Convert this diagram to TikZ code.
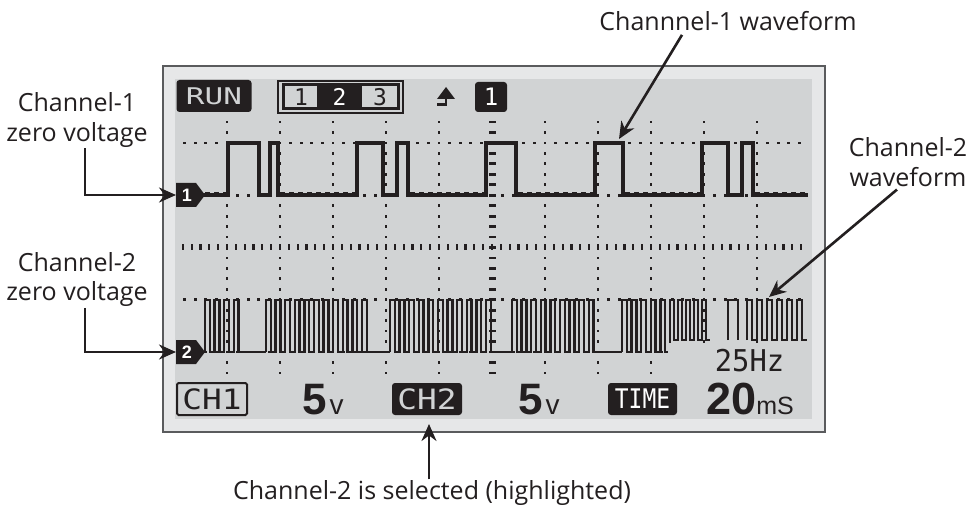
\documentclass[tikz,border=0pt]{standalone}
\usepackage{fontspec}
\setmainfont{Open Sans}
\newfontfamily\lcdfont{DejaVu Sans Mono}
\newfontfamily\numfont{Liberation Sans}
\usetikzlibrary{arrows.meta}
\definecolor{ink}{HTML}{231F20}
\definecolor{bezel}{HTML}{E6E7E8}
\definecolor{screen}{HTML}{D1D3D4}
\definecolor{rim}{HTML}{5A5B5D}
\newcommand\pulsetrain[5]{%
  \draw[chtwo] (#1,#4) foreach \i in {1,...,#2} {-- ++(0,#5-#4) -- ++(#3/2,0) -- ++(0,#4-#5) -- ++(#3/2,0)};}
\newcommand\lcdtext[3]{{\lcdfont\fontsize{#1}{#1}\selectfont\scalebox{#2}[1]{#3}}}
\begin{document}
\begin{tikzpicture}[x=1pt,y=-1pt,
  lbl/.style={font=\fontsize{25}{29.5}\selectfont, text=ink, align=center, inner sep=1pt},
  callout/.style={draw=ink, line width=2.6pt, -{Stealth[length=17pt,width=15pt]}},
  blackbox/.style={fill=ink, rounded corners=3pt, inner sep=0pt},
  chone/.style={draw=ink, line width=3.4pt, line join=miter},
  chtwo/.style={draw=ink, line width=2.5pt, line join=miter},
  dot/.style={fill=ink},
  bignum/.style={anchor=base west, inner sep=0pt, text=ink}
]
\useasboundingbox (0,0) rectangle (978,505);
\fill[white] (0,0) rectangle (978,505);
% bezel and screen
\draw[rim, fill=bezel, line width=1.8pt] (163,66) rectangle (825,432);
\fill[screen] (175,79) rectangle (812,419);
% graticule: vertical dotted lines
\foreach \k in {0,1,2,3,4,6,7,8,9,10}
  \foreach \j in {-2,...,22}
    \fill[dot] ({227+53*\k-1.4},{143+10.45*\j-1.4}) rectangle ++(2.8,2.8);
% horizontal dotted lines
\foreach \r in {0,1,3,4}
  \foreach \i in {-4,...,54}
    \fill[dot] ({227+10.6*\i-1.4},{143+52.25*\r-1.4}) rectangle ++(2.8,2.8);
% centre column
\foreach \j in {-2,...,22}
  \fill[dot] (488.5,{143+10.45*\j-1.4}) rectangle ++(7,2.8);
% centre row
\foreach \i in {-5,...,65}
  \fill[dot] ({227+8.833*\i-1.1},244.5) rectangle ++(2.2,6);
% channel 1 waveform
\draw[chone] (203,195) -- (228,195) -- (228,143) -- (259,143) -- (259,195) -- (270,195) -- (270,143) -- (278,143) -- (278,195) -- (357,195) -- (357,143) -- (383,143) -- (383,195) -- (397,195) -- (397,143) -- (408,143) -- (408,195) -- (486,195) -- (486,143) -- (516,143) -- (516,195) -- (595,195) -- (595,143) -- (623,143) -- (623,195) -- (702,195) -- (702,143) -- (728,143) -- (728,195) -- (742,195) -- (742,143) -- (753,143) -- (753,195) -- (808,195);
\foreach \a/\b in {203/228, 278/357, 408/486, 516/595, 623/702, 753/808}
  \draw[ink, line width=2pt, dash pattern=on 5pt off 4pt] ({\a+2},193) -- ({\b-2},193);
% channel 2 waveform
\draw[chtwo] (203,352) -- (205,352);
\pulsetrain{205}{4}{9.6}{352}{300}
\draw[chtwo] (243.4,352) -- (266,352);
\pulsetrain{266}{11}{9.6}{352}{300}
\draw[chtwo] (371.6,352) -- (390,352);
\pulsetrain{390}{11}{9.6}{352}{300}
\draw[chtwo] (495.6,352) -- (512,352);
\pulsetrain{512}{9}{9.6}{352}{300}
\draw[chtwo] (598.4,352) -- (622,352);
\pulsetrain{622}{5}{9.6}{352}{300}
\draw[chtwo] (670,352) -- (670,340);
\pulsetrain{670}{5}{8}{340}{300}
\draw[chtwo] (728,340) -- (728,300) -- (738,300) -- (738,340);
\pulsetrain{747}{6}{10}{340}{300}
% frequency readout
\fill[screen] (668,343) rectangle (811,378);
\node[text=ink, inner sep=0pt] (freq) at (749.5,361) {\lcdtext{30}{0.96}{25Hz}};
% channel markers
\fill[ink] (176,183) -- (196,183) -- (205,195) -- (196,207) -- (176,207) -- cycle;
\node[font=\numfont\bfseries\fontsize{18}{18}\selectfont, text=white, inner sep=0pt] (mk1) at (187,195.5) {1};
\fill[ink] (176,340) -- (196,340) -- (205,352) -- (196,364) -- (176,364) -- cycle;
\node[font=\numfont\bfseries\fontsize{18}{18}\selectfont, text=white, inner sep=0pt] (mk2) at (187,352.5) {2};
\coordinate (z1) at (176,195);
\coordinate (z2) at (176,352);
% top status bar
\node[blackbox, minimum width=75pt, minimum height=32pt, text=screen] (run) at (214,96) {\lcdtext{23}{1.35}{RUN}};
\node[draw=ink, line width=1.5pt, minimum width=125pt, minimum height=32pt, inner sep=0pt] (chsel) at (340.5,97) {};
\fill[ink] (317,85) rectangle (362,109);
\draw[ink, line width=3pt] (283,85) rectangle (398,109);
\node[text=ink, inner sep=0pt] (d1) at (301,97) {\lcdtext{23}{1}{1}};
\node[text=white, inner sep=0pt] (d2) at (339.5,97) {\lcdtext{23}{1}{2}};
\node[text=ink, inner sep=0pt] (d3) at (380,97) {\lcdtext{23}{1}{3}};
\fill[ink] (437,99) -- (455,99) -- (446,87) -- cycle;
\draw[ink, line width=2.4pt] (437,104.5) -- (446,104.5) -- (446,98);
\node[blackbox, minimum width=32pt, minimum height=30pt, text=white] (trg) at (491,97) {\lcdtext{24}{1}{1}};
% bottom status bar
\node[draw=ink, line width=2pt, rounded corners=1.5pt, minimum width=70pt, minimum height=32pt, inner sep=0pt, text=ink] (ch1) at (212,399) {\lcdtext{28}{1.17}{CH1}};
\node[bignum] (volt1) at (302,414) {\numfont\bfseries\fontsize{44}{44}\selectfont 5\hspace{3pt}\mdseries\fontsize{28}{28}\selectfont v};
\node[blackbox, minimum width=70pt, minimum height=32pt, text=screen] (ch2) at (427,399) {\lcdtext{28}{1.17}{CH2}};
\node[bignum] (volt2) at (518,414) {\numfont\bfseries\fontsize{44}{44}\selectfont 5\hspace{3pt}\mdseries\fontsize{28}{28}\selectfont v};
\node[blackbox, minimum width=69pt, minimum height=32pt, text=white] (tb) at (642.5,399) {\lcdtext{27}{0.85}{TIME}};
\node[bignum] (tbv) at (706,414) {\numfont\bfseries\fontsize{45}{45}\selectfont 20\mdseries\fontsize{25}{25}\selectfont mS};
% callouts
\node[lbl] (lab1) at (77,120) {Channel-1\\zero voltage};
\draw[callout] ([xshift=8pt]lab1.south) |- (z1);
\node[lbl] (lab2) at (77,279.5) {Channel-2\\zero voltage};
\draw[callout] ([xshift=8pt]lab2.south) |- (z2);
\node[lbl] (lab3) at (728,21) {Channnel-1 waveform};
\coordinate (t1) at (619,139);
\draw[callout] ([xshift=-46pt,yshift=-3pt]lab3.south) -- (t1);
\node[lbl] (lab4) at (908,162) {Channel-2\\waveform};
\coordinate (t2) at (769,297);
\draw[callout] ([xshift=-11pt,yshift=-2pt]lab4.south) -- (t2);
\node[lbl] (lab5) at (432,493) {Channel-2 is selected (highlighted)};
\coordinate (t3) at (429,424);
\draw[callout] ([xshift=-3pt]lab5.north) -- (t3);
\end{tikzpicture}
\end{document}
